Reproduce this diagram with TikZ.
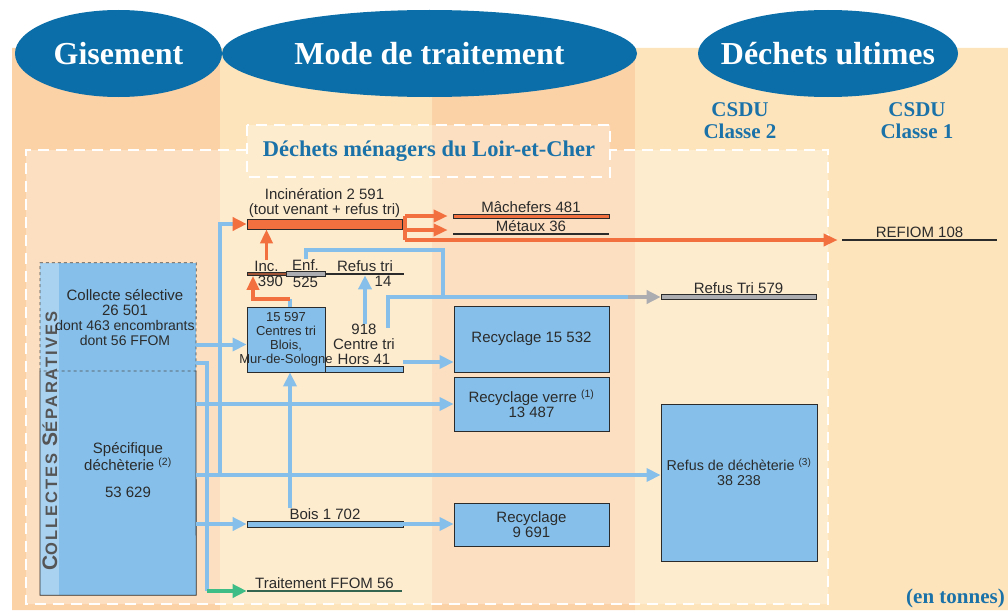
\documentclass[tikz,border=0pt]{standalone}
\usepackage{fontspec}
\setmainfont{Liberation Sans}
\newfontfamily\headfont{Liberation Serif}
\usetikzlibrary{arrows.meta}

\definecolor{coldark}{HTML}{FBD1A6}
\definecolor{collight}{HTML}{FEE4BB}
\definecolor{ovalblue}{HTML}{0B6EA8}
\definecolor{titleblue}{HTML}{1A72A9}
\definecolor{boxblue}{HTML}{86C0EA}
\definecolor{stripblue}{HTML}{A9D1F0}
\definecolor{hot}{HTML}{F2703F}
\definecolor{ffomgreen}{HTML}{3FBD87}
\definecolor{bargray}{HTML}{ABADB0}
\definecolor{sepgray}{HTML}{555555}
\definecolor{ink}{HTML}{2B2B2B}

\newcommand\lbl{\fontsize{15}{15}\selectfont}
\newcommand\DrawBar[5]{
  \node[flatbar,#4,minimum width=#3,label={[name=#1lab]above:#5}] (#1) at #2 {};
}

\begin{document}
\begin{tikzpicture}[x=1pt,y=-1pt,
  every label/.style={font=\lbl,text=ink,inner sep=.5pt,align=center},
  flatbar/.style={inner sep=0pt,line width=.6pt},
  hotbar/.style={draw=ink,fill=hot,minimum height=10},
  thinhot/.style={draw=ink,fill=hot,minimum height=4},
  incbar/.style={draw=ink,fill=hot!60!ink,minimum height=3},
  graybar/.style={draw=ink,fill=bargray,minimum height=5},
  inkline/.style={fill=ink,minimum height=2},
  bluebar/.style={draw=ink,fill=boxblue,minimum height=6},
  greenline/.style={fill=ink!60!ffomgreen,minimum height=2},
  box/.style={draw=ink,line width=.8pt,fill=boxblue,inner sep=0pt,align=center,font=\lbl,text=ink},
  txt/.style={align=center,font=\lbl,text=ink,inner sep=0pt},
  pipe/.style={draw=boxblue,line width=4pt},
  flow/.style={pipe,-{Triangle[length=14pt,width=13pt]}},
  grayflow/.style={draw=bargray,line width=4pt,-{Triangle[length=14pt,width=13pt]}},
  greenflow/.style={draw=ffomgreen,line width=4pt,-{Triangle[length=14pt,width=13pt]}},
  hotflow/.style={draw=hot,line width=3.5pt,-{Triangle[length=14pt,width=12pt]}},
  oval/.style={anchor=base,text=white,inner sep=0pt,font=\headfont\bfseries\fontsize{32}{32}\selectfont},
  heading/.style={text=titleblue,align=center,inner sep=0pt,font=\headfont\bfseries\fontsize{21}{22}\selectfont},
  dashline/.style={draw=white,line width=2.5pt,dash pattern=on 11pt off 7pt}]
\useasboundingbox (0,0) rectangle (1008,610);
\fill[coldark] (12,48) rectangle (220,610) (432,48) rectangle (635,610);
\fill[collight] (220,48) rectangle (432,610) (635,48) rectangle (1008,610);
\fill[white,opacity=.3] (26,150) rectangle (828,604) (247,125) rectangle (610,177);
\draw[dashline] (247,150) -- (26,150) -- (26,604) -- (828,604) -- (828,150) -- (610,150);
\draw[dashline] (247,125) rectangle (610,177);

% headings
\fill[ovalblue] (118.5,53.5) ellipse (103.5pt and 43.5pt)
  (429.5,53.5) ellipse (207.5pt and 43.5pt) (828,53.5) ellipse (130pt and 43.5pt);
\node[oval] (gisement) at (118.5,64) {Gisement};
\node[oval] (mode) at (429.5,64) {Mode de traitement};
\node[oval] (ultimes) at (828,64) {Déchets ultimes};
\node[heading] (classe2) at (740,121) {CSDU\\Classe 2};
\node[heading] (classe1) at (917,121) {CSDU\\Classe 1};
\node[heading,font=\headfont\bfseries\fontsize{22.5}{24}\selectfont] (menagers) at (429,151) {Déchets ménagers du Loir-et-Cher};
\node[heading,anchor=south east] (tonnes) at (1005,608) {(en tonnes)};

% gisement
\node[fill=boxblue,inner sep=0pt,minimum width=156,minimum height=332] (gis) at (118,429) {};
\node[fill=stripblue,inner sep=0pt,minimum width=19,minimum height=332,anchor=north west] (strip) at (gis.north west) {};
\coordinate (gsplitW) at (40,371);
\coordinate (gsplitE) at (196,371);
\draw[ink!85,line width=.8pt,dashed] (gsplitW) |- (gis.north east) -- (gsplitE) -- cycle;
\draw[ink,line width=.8pt] (gsplitW) |- (gis.south east) -- (gsplitE);
\node[rotate=90,text=sepgray,font=\bfseries,inner sep=0pt] (septxt) at (50,441)
  {\addfontfeature{LetterSpace=12}{\fontsize{21}{21}\selectfont C}\fontsize{16.5}{16.5}\selectfont OLLECTES {\fontsize{21}{21}\selectfont S}ÉPARATIVES};
\node[txt] (selective) at (125,318) {Collecte sélective\\26 501\\{\fontsize{14}{15}\selectfont dont 463 encombrants}\\{\fontsize{14}{15}\selectfont dont 56 FFOM}};
\node[txt] (decheterie) at (128,470) {Spécifique\\déchèterie \textsuperscript{(2)}\\[12pt]53 629};

% traitement
\node[box,minimum width=78,minimum height=65,font=\fontsize{13}{14}\selectfont] (ctri) at (286,339.5) {15 597\\Centres tri\\Blois,\\\makebox[0pt]{Mur-de-Sologne}};
\node[box,minimum width=155,minimum height=66] (rec1) at (531.5,339) {Recyclage 15 532};
\node[box,minimum width=155,minimum height=54] (rec2) at (531.5,404) {Recyclage verre \textsuperscript{(1)}\\13 487};
\node[box,minimum width=155,minimum height=43] (rec3) at (531.5,524.5) {Recyclage\\9 691};
\node[box,minimum width=156,minimum height=157,font=\fontsize{14.3}{15}\selectfont] (refdech) at (739,482.5) {Refus de déchèterie \textsuperscript{(3)}\\38 238\\[6pt]};
\DrawBar{incin}{(324.5,224)}{155}{hotbar}{Incinération 2 591\\(tout venant + refus tri)}
\DrawBar{inc}{(266.5,274)}{39}{incbar,label={[xshift=4pt]below:390}}{Inc.}
\DrawBar{enf}{(305.5,274)}{39}{graybar,label=below:525}{Enf.}
\DrawBar{rtri}{(365,274)}{78}{inkline,label={[xshift=18pt]below:14}}{Refus tri}
\DrawBar{hors}{(364,369)}{78}{bluebar}{918\\Centre tri\\Hors 41}
\DrawBar{mach}{(531,216)}{156}{thinhot}{Mâchefers 481}
\DrawBar{metaux}{(531,234)}{156}{inkline}{Métaux 36}
\DrawBar{refiom}{(919.5,240)}{155}{inkline,minimum height=2.5}{REFIOM 108}
\DrawBar{rt579}{(738.5,297)}{155}{graybar}{Refus Tri 579}
\DrawBar{bois}{(325,524)}{156}{bluebar}{Bois 1 702}
\DrawBar{ffom}{(324.5,591)}{155}{greenline}{Traitement FFOM 56}

% flux
\coordinate (cin) at ([yshift=-5pt]ctri.west);
\coordinate (g1) at (196,363);
\coordinate (g2) at (196,475);
\coordinate (k1) at (207,0 |- ffom.west);
\coordinate (k2) at (220,0 |- g2);
\coordinate (cbot) at ([xshift=4pt]ctri.south);
\coordinate (ctop) at ([xshift=4pt]ctri.north);
\coordinate (hout) at ([yshift=7pt]hors.east);
\coordinate (h1) at (388,328);
\coordinate (k3) at (628,0 |- rt579.west);
\coordinate (k4) at (443,250);
\coordinate (k5) at (253,299);
\coordinate (o1) at (405,0 |- mach.west);
\coordinate (o2) at (405,230);
\coordinate (o3) at (405,0 |- refiom.west);
\draw[flow] (cin -| gis.east) -- (cin);
\draw[pipe] (g1) -| (k1);
\draw[greenflow] (k1) -- (ffom.west);
\draw[flow] (rec2.west -| gis.east) -- (rec2.west);
\draw[flow] (g2) -- (g2 -| refdech.west);
\draw[pipe,-{Triangle[length=14pt,width=13pt,color=hot]}] (k2) |- (incin.west);
\draw[flow] (bois.west -| gis.east) -- (bois.west);
\draw[flow] (bois.east) -- (bois.east -| rec3.west);
\draw[flow] (cbot |- boislab.north) -- (cbot);
\draw[flow] (hout) -- (hout -| rec1.west);
\draw[flow] (rtri.south |- horslab.north) -- (rtri.south);
\draw[pipe] (h1) |- (k3);
\draw[grayflow] (k3) -- (rt579.west);
\draw[pipe] (enflab.north) |- (k4) -- (k4 |- rt579.west);
\draw[hotflow] (inclab.north) -- (inclab.north |- incin.south);
\draw[pipe] (ctop) -- (ctop |- k5);
\draw[hotflow] (ctop |- k5) -| (k5 |- inc.south);
\draw[draw=hot,line width=3.5pt] (o1) -- (o3);
\draw[hotflow,shorten >=5pt] (o1) -- (mach.west);
\draw[hotflow,shorten >=5pt] (o2) -- (o2 -| mach.west);
\draw[hotflow,shorten >=4pt] (o3) -- (refiom.west);
\end{tikzpicture}
\end{document}
